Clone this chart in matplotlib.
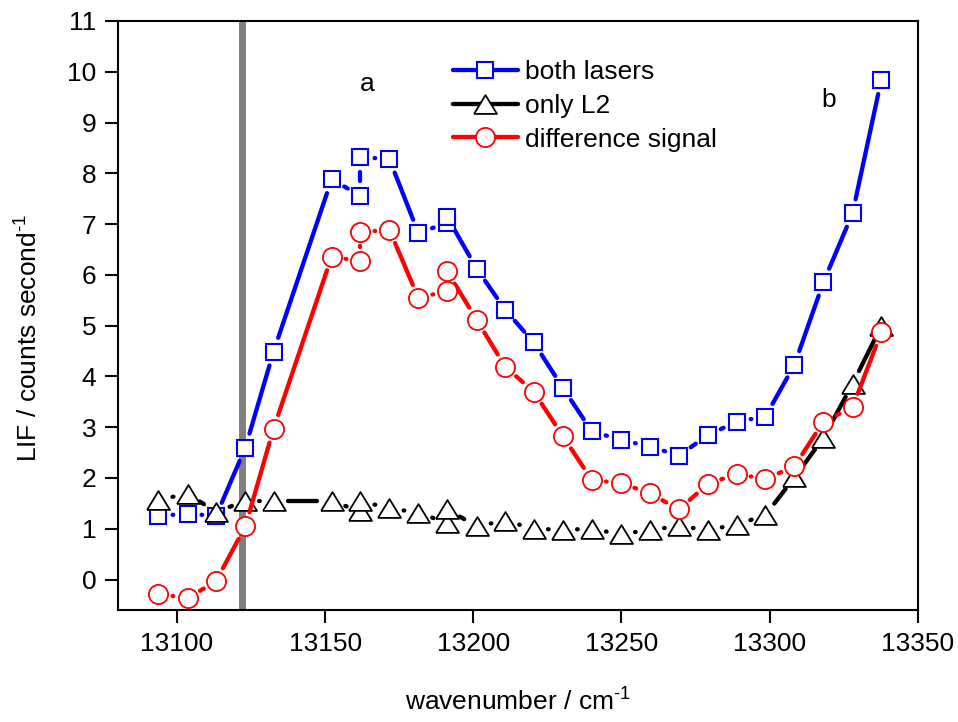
import numpy as np
import matplotlib
matplotlib.use("Agg")
import matplotlib.pyplot as plt
from matplotlib.collections import LineCollection
from matplotlib.lines import Line2D

plt.rcParams['font.family'] = ['Liberation Sans', 'DejaVu Sans']
plt.rcParams['mathtext.fontset'] = 'custom'
plt.rcParams['mathtext.rm'] = 'Liberation Sans'
plt.rcParams['mathtext.it'] = 'Liberation Sans'
plt.rcParams['mathtext.bf'] = 'Liberation Sans'

# ---- data ----
wavenumber = [13093.7, 13103.6, 13113.2, 13123.1, 13132.6, 13152.2, 13161.9, 13161.9,
              13171.7, 13181.5, 13191.2, 13191.2, 13201.2, 13210.8, 13220.4, 13230.3,
              13240.0, 13249.8, 13259.6, 13269.4, 13279.1, 13288.9, 13298.6, 13308.4,
              13318.2, 13328.0, 13337.7]
both_lasers = [1.25, 1.30, 1.25, 2.60, 4.49, 7.88, 7.56, 8.32, 8.28, 6.82, 7.03, 7.14,
               6.12, 5.31, 4.67, 3.77, 2.92, 2.75, 2.62, 2.44, 2.84, 3.11, 3.21, 4.23,
               5.86, 7.21, 9.84]
only_L2 = [1.57, 1.69, 1.33, 1.55, 1.54, 1.54, 1.35, 1.54, 1.41, 1.31, 1.12, 1.38,
           1.05, 1.16, 1.00, 0.98, 1.00, 0.89, 0.98, 1.05, 0.98, 1.08, 1.27, 2.01,
           2.79, 3.85, 4.99]
difference = [-0.28, -0.37, -0.03, 1.05, 2.97, 6.36, 6.27, 6.84, 6.89, 5.54, 5.69, 6.07,
              5.11, 4.19, 3.70, 2.82, 1.96, 1.90, 1.70, 1.38, 1.88, 2.08, 1.98, 2.23,
              3.11, 3.39, 4.87]
series_labels = ["both lasers", "only L2", "difference signal"]
marker_line = 13122
xticks = [13100, 13150, 13200, 13250, 13300, 13350]
yticks = list(range(0, 12))

W, H = 958, 722
fig = plt.figure(figsize=(W / 100, H / 100), dpi=100)
L, R, T, B = 117.7, 917.7, 21, 610
ax = fig.add_axes([L / W, 1 - B / H, (R - L) / W, (B - T) / H])
ax.set_xlim(13080, 13350)
ax.set_ylim(-0.6, 11)

FS = 19
ax.set_xticks(xticks)
ax.set_yticks(yticks)
ax.tick_params(direction='out', length=9.5, width=1.5, labelsize=FS, pad=6,
               top=False, right=False)
for s in ax.spines.values():
    s.set_linewidth(1.5)

ax.set_xlabel(r'wavenumber / cm$^{\text{-}1}$', fontsize=FS, labelpad=24)
ax.set_ylabel(r'LIF / counts second$^{\text{-}1}$', fontsize=FS)
ax.yaxis.set_label_coords(-0.094, 0.462)

ax.axvline(marker_line, color='#808080', lw=5, zorder=1)

LW = 3.1
GAP = 14.5  # pixels between point centre and line end


def gapped_line(x, y, color, z):
    pts = ax.transData.transform(np.column_stack([x, y]))
    inv = ax.transData.inverted()
    segs = []
    for p, q in zip(pts[:-1], pts[1:]):
        d = q - p
        Ln = np.hypot(*d)
        if Ln < 2 * GAP - 1.5:
            continue
        u = d / Ln
        g = min(GAP, Ln / 2 - 0.3)
        segs.append(inv.transform(np.array([p + u * g, q - u * g])))
    lc = LineCollection(segs, colors=color, linewidths=LW, capstyle='round', zorder=z)
    ax.add_collection(lc)


tri = [(-1, -0.82), (1, -0.82), (0, 0.82), (-1, -0.82)]
styles = [
    (both_lasers, '#0000FF', 's', 12.2, 1.5),
    (only_L2, '#000000', tri, 16.5, 1.3),
    (difference, '#FF0000', 'o', 13.8, 1.3),
]
handles = []
for i, (vals, col, mk, ms, mew) in enumerate(styles):
    z = 3 + 2 * i
    gapped_line(wavenumber, vals, col, z)
    ax.plot(wavenumber, vals, linestyle='none', marker=mk, ms=ms, mfc='white',
            mec=col, mew=mew, zorder=z + 1)
    handles.append(Line2D([], [], color=col, lw=LW, marker=mk, ms=ms, mfc='white',
                          mec=col, mew=mew, solid_capstyle='round'))

leg = ax.legend(handles, series_labels, loc='upper left',
                bbox_to_anchor=(453 / W, 1 - 60 / H), bbox_transform=fig.transFigure,
                frameon=False, fontsize=FS, handlelength=2.46, handletextpad=0.28,
                labelspacing=0.37, borderpad=0, borderaxespad=0)

ax.text(13164.2, 9.76, 'a', fontsize=FS, ha='center', va='center')
ax.text(13320, 9.44, 'b', fontsize=FS, ha='center', va='center')

fig.savefig('out.png', dpi=100)
